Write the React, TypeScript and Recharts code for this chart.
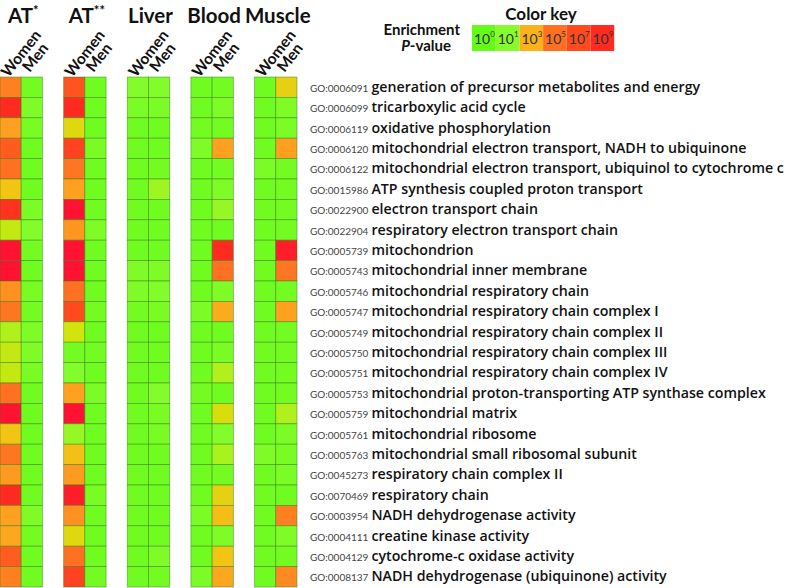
import React from 'react';
import { ScatterChart, Scatter, XAxis, YAxis } from 'recharts';

const goIds = [
  'GO:0006091', 'GO:0006099', 'GO:0006119', 'GO:0006120', 'GO:0006122',
  'GO:0015986', 'GO:0022900', 'GO:0022904', 'GO:0005739', 'GO:0005743',
  'GO:0005746', 'GO:0005747', 'GO:0005749', 'GO:0005750', 'GO:0005751',
  'GO:0005753', 'GO:0005759', 'GO:0005761', 'GO:0005763', 'GO:0045273',
  'GO:0070469', 'GO:0003954', 'GO:0004111', 'GO:0004129', 'GO:0008137',
];

const goTerms = [
  'generation of precursor metabolites and energy',
  'tricarboxylic acid cycle',
  'oxidative phosphorylation',
  'mitochondrial electron transport, NADH to ubiquinone',
  'mitochondrial electron transport, ubiquinol to cytochrome c',
  'ATP synthesis coupled proton transport',
  'electron transport chain',
  'respiratory electron transport chain',
  'mitochondrion',
  'mitochondrial inner membrane',
  'mitochondrial respiratory chain',
  'mitochondrial respiratory chain complex I',
  'mitochondrial respiratory chain complex II',
  'mitochondrial respiratory chain complex III',
  'mitochondrial respiratory chain complex IV',
  'mitochondrial proton-transporting ATP synthase complex',
  'mitochondrial matrix',
  'mitochondrial ribosome',
  'mitochondrial small ribosomal subunit',
  'respiratory chain complex II',
  'respiratory chain',
  'NADH dehydrogenase activity',
  'creatine kinase activity',
  'cytochrome-c oxidase activity',
  'NADH dehydrogenase (ubiquinone) activity',
];

const tissues = ['AT', 'AT', 'Liver', 'Blood', 'Muscle'];
const tissueMarks = ['*', '**', '', '', ''];
const sexes = ['Women', 'Men'];

// -log10 of the enrichment P-value, top row first
const atWomen = [4.5, 9, 3.5, 6, 5, 2.5, 8.5, 1.8, 10, 10, 4, 4.8, 1.5, 1.8, 1.8, 5, 10, 2.5, 4.8, 3.7, 9, 3.5, 3.3, 6, 4.5];
const atMen = [0.5, 0.8, 0.6, 0.4, 0.4, 0.4, 0.7, 0.9, 0.5, 0.4, 0.6, 0.5, 0.8, 0.8, 0.6, 0.4, 0.3, 0.4, 0.4, 0.4, 0.4, 0.8, 0.5, 0.4, 0.4];
const at2Women = [6.5, 9, 2.2, 7.5, 4.8, 3.5, 10, 3.8, 10, 10, 5, 7, 2, 0.5, 0.9, 3.5, 10, 1.2, 2.6, 3.7, 9.5, 4, 2.2, 5, 7.5];
const at2Men = [0.4, 0.4, 0.4, 0.6, 0.4, 0.4, 0.4, 0.8, 0.4, 0.4, 0.4, 0.5, 0.4, 0.5, 0.4, 0.7, 0.4, 0.4, 0.4, 0.4, 0.6, 0.4, 0.4, 0.4, 0.5];
const liverWomen = [0.9, 0.7, 0.4, 0.4, 0.4, 0.4, 0.4, 0.4, 0.4, 0.8, 0.8, 0.5, 0.4, 0.4, 0.4, 0.4, 0.4, 0.4, 0.4, 0.4, 0.4, 0.4, 0.4, 0.4, 0.4];
const liverMen = [0.9, 0.7, 0.4, 0.4, 0.5, 1.3, 0.4, 0.4, 0.4, 0.8, 0.9, 0.6, 0.4, 0.4, 0.4, 0.9, 0.6, 0.6, 0.4, 0.4, 0.4, 0.4, 0.4, 0.8, 0.5];
const bloodWomen = [0.4, 0.4, 0.5, 0.8, 0.4, 0.4, 0.4, 0.4, 0.4, 0.4, 0.4, 0.7, 0.4, 0.4, 0.4, 0.5, 0.4, 0.4, 0.4, 0.4, 0.4, 0.7, 0.4, 0.4, 0.7];
const bloodMen = [0.5, 0.8, 0.5, 3.5, 0.5, 0.8, 1.2, 0.4, 9, 5, 0.8, 3.2, 0.4, 0.6, 1.5, 0.4, 2.1, 0.9, 1.4, 0.5, 2.3, 2.7, 0.8, 2.5, 3.3];
const muscleWomen = [0.4, 0.4, 0.4, 0.4, 0.7, 0.4, 0.4, 0.4, 0.4, 0.4, 0.4, 0.4, 0.4, 0.4, 0.4, 0.4, 0.4, 0.4, 0.8, 0.4, 0.4, 0.4, 0.4, 0.4, 0.4];
const muscleMen = [2.3, 0.8, 0.7, 3.5, 0.5, 0.5, 0.5, 0.5, 9.5, 4.8, 0.5, 3.5, 0.5, 0.5, 0.5, 0.5, 1.5, 0.7, 0.6, 0.7, 0.4, 4.5, 0.8, 0.5, 4.2];

const columnValues = [atWomen, atMen, at2Women, at2Men, liverWomen, liverMen, bloodWomen, bloodMen, muscleWomen, muscleMen];

const keyExponents = [0, 1, 3, 5, 7, 9];

// colour ramp
const stopV = [0, 1, 1.5, 2, 2.5, 3.5, 5, 7, 9, 10];
const stopC = ['#62fc18', '#86fc2c', '#b0f01c', '#d2e40c', '#f2c414', '#ffa020', '#ff7022', '#ff4a1e', '#ff2a20', '#ff1232'];

const hex = (c: string) => [1, 3, 5].map((i) => parseInt(c.slice(i, i + 2), 16));

function colorFor(v: number) {
  if (v <= stopV[0]) return stopC[0];
  for (let i = 1; i < stopV.length; i++) {
    if (v <= stopV[i]) {
      const t = (v - stopV[i - 1]) / (stopV[i] - stopV[i - 1]);
      const a = hex(stopC[i - 1]);
      const b = hex(stopC[i]);
      const m = a.map((x, k) => Math.round(x + (b[k] - x) * t));
      return `rgb(${m[0]},${m[1]},${m[2]})`;
    }
  }
  return stopC[stopC.length - 1];
}

const W = 794;
const H = 588;
const LABEL_W = 490;
const MARGIN = { top: 0, right: 7, left: 0, bottom: 1 };
const HEADER_H = 77;
const X_DOMAIN: [number, number] = [-0.5, 13.5];
const Y_DOMAIN: [number, number] = [-0.5, goIds.length - 0.5];
const PLOT_W = W - MARGIN.left - MARGIN.right - LABEL_W;
const PLOT_H = H - MARGIN.top - MARGIN.bottom - HEADER_H;
const CELL_W = PLOT_W / (X_DOMAIN[1] - X_DOMAIN[0]);
const CELL_H = PLOT_H / (Y_DOMAIN[1] - Y_DOMAIN[0]);

const colX = (c: number) => Math.floor(c / 2) * 3 + (c % 2);
const colTicks = columnValues.map((_, c) => colX(c));

const cells = columnValues.flatMap((vals, c) =>
  vals.map((v, r) => ({ x: colX(c), y: r, v }))
);

const font = 'Lato, "Open Sans", sans-serif';
const termFont = '"Open Sans", Lato, sans-serif';

function Cell(props: any) {
  const { cx, cy, payload } = props;
  return (
    <rect
      x={cx - CELL_W / 2}
      y={cy - CELL_H / 2}
      width={CELL_W}
      height={CELL_H}
      fill={colorFor(payload.v)}
      stroke="#2d7a12"
      strokeOpacity={0.55}
      strokeWidth={0.8}
    />
  );
}

// column header: rotated sex label, plus the tissue title over each women column
function ColumnTick(props: any) {
  const { x, payload } = props;
  const idx = colTicks.indexOf(payload.value);
  const sex = idx % 2;
  const g = Math.floor(idx / 2);
  const px = x - 2;
  const py = sex === 0 ? 78 : 73;
  return (
    <g>
      <text x={px} y={py} transform={`rotate(-52 ${px} ${py})`} fontFamily={font} fontWeight={700} fontSize={15.5} fill="#111">
        {sexes[sex]}
      </text>
      {sex === 0 && (
        <text x={x + CELL_W / 2 + 2} y={23} textAnchor="middle" fontFamily={font} fontWeight={700} fontSize={20.5} fill="#111">
          {tissues[g]}
          {tissueMarks[g] && (
            <tspan dy={-8} fontSize={13}>{tissueMarks[g]}</tspan>
          )}
        </text>
      )}
    </g>
  );
}

function TermTick(props: any) {
  const { y, payload } = props;
  const r = payload.value;
  return (
    <text x={310} y={y + 4.5} fill="#111">
      <tspan fontFamily={font} fontSize={10} fill="#444">{goIds[r]}</tspan>
      <tspan dx={3} fontFamily={termFont} fontSize={14.2} fontWeight={600}>{goTerms[r]}</tspan>
    </text>
  );
}

function ColorKey() {
  return (
    <svg width={300} height={56} style={{ position: 'absolute', left: 360, top: 0 }} fontFamily={font}>
      <text x={181} y={20} textAnchor="middle" fontSize={17} fontWeight={700} fill="#111">Color key</text>
      <text x={100} y={35} textAnchor="end" fontSize={15} fontWeight={700} fill="#111">Enrichment</text>
      <text x={91} y={51} textAnchor="end" fontSize={15} fontWeight={700} fill="#111">
        <tspan fontStyle="italic">P</tspan>-value
      </text>
      {keyExponents.map((e, i) => (
        <g key={e}>
          <rect x={112 + i * 23.7} y={25} width={23.7} height={26} fill={colorFor(e)} />
          <text x={112 + i * 23.7 + 2} y={44} fontSize={14} fill="#333">
            10<tspan dy={-7} fontSize={8}>{e}</tspan>
          </text>
        </g>
      ))}
    </svg>
  );
}

export default function App() {
  return (
    <div style={{ position: 'absolute', left: 0, top: 0, width: W, height: H, background: '#fff' }}>
      <ScatterChart width={W} height={H} margin={MARGIN}>
        <XAxis
          type="number"
          dataKey="x"
          orientation="top"
          domain={X_DOMAIN}
          ticks={colTicks}
          interval={0}
          height={HEADER_H}
          axisLine={false}
          tickLine={false}
          tick={<ColumnTick />}
        />
        <YAxis
          type="number"
          dataKey="y"
          orientation="right"
          reversed
          domain={Y_DOMAIN}
          ticks={goIds.map((_, i) => i)}
          interval={0}
          width={LABEL_W}
          axisLine={false}
          tickLine={false}
          tick={<TermTick />}
        />
        <Scatter data={cells} shape={<Cell />} isAnimationActive={false} />
      </ScatterChart>
      <ColorKey />
    </div>
  );
}
